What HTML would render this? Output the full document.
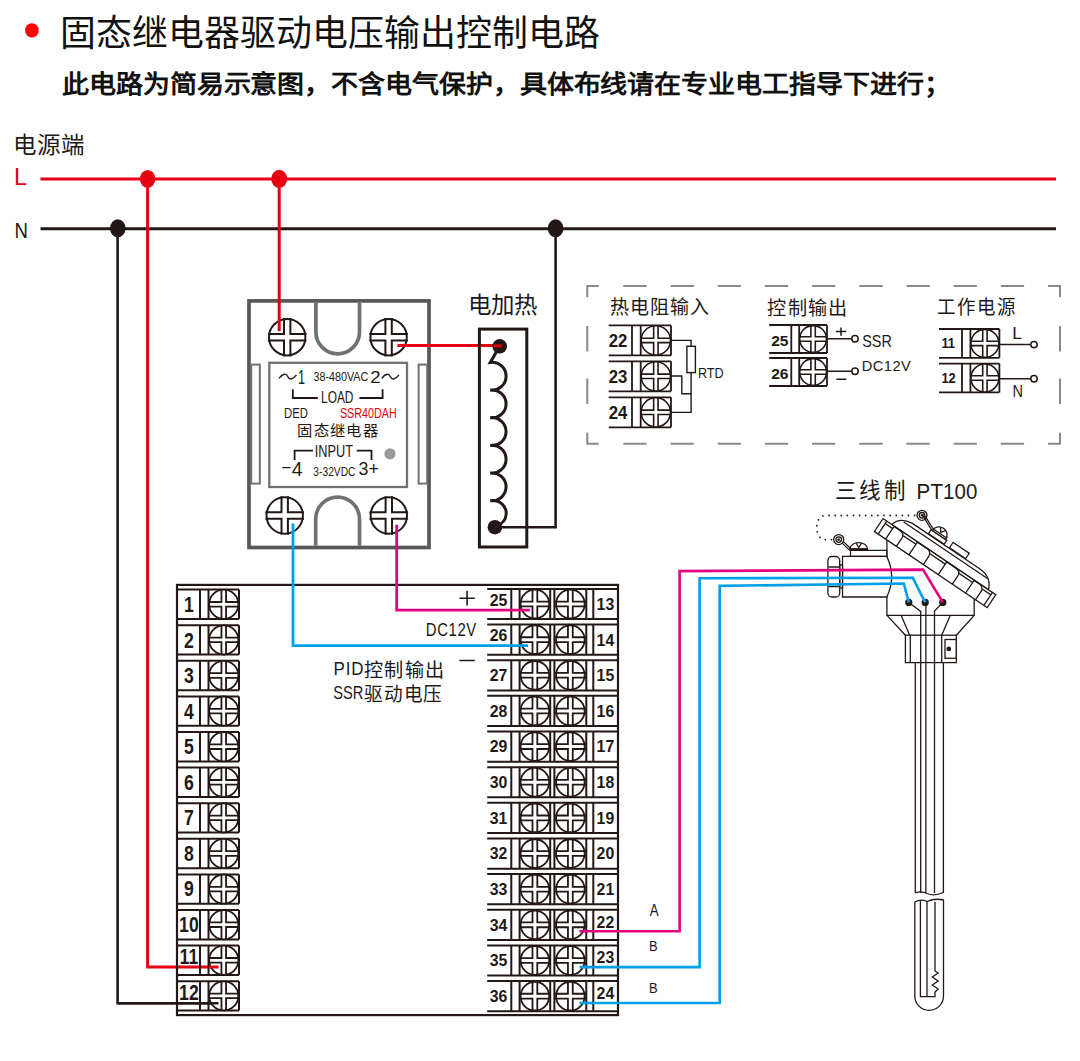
<!DOCTYPE html>
<html lang="zh-CN"><head><meta charset="utf-8"><title>SSR</title>
<style>html,body{margin:0;padding:0;background:#fff;width:1080px;height:1061px;overflow:hidden}
svg{position:absolute;left:0;top:0;font-family:"Liberation Sans", sans-serif}</style></head><body>
<svg width="1080" height="1061" viewBox="0 0 1080 1061">
<ellipse cx="31.9" cy="30.4" rx="6.8" ry="7.2" fill="#ff0000"/>
<text x="60.50" y="46.20" font-size="36" fill="#111" font-weight="normal" text-anchor="start" transform="translate(60.50,46.20) scale(0.9975,1) translate(-60.50,-46.20)">固态继电器驱动电压输出控制电路</text>
<text x="62" y="93" font-size="27" fill="#111" font-weight="bold" transform="translate(0,95.4) scale(1,0.93) translate(0,-95.4)">此电路为简易示意图，不含电气保护，具体布线请在专业电工指导下进行；</text>
<text x="13.04" y="152.89" font-size="23.0" fill="#231815" font-weight="normal" text-anchor="start" letter-spacing="0.85" transform="translate(13.04,152.89) scale(1.024,1) translate(-13.04,-152.89)">电源端</text>
<text x="14.08" y="185.00" font-size="23.09" fill="#e60012" font-weight="normal" text-anchor="start" transform="translate(14.08,185.00) scale(1.026,1) translate(-14.08,-185.00)">L</text>
<text x="14.53" y="237.57" font-size="22.75" fill="#231815" font-weight="normal" text-anchor="start" transform="translate(14.53,237.57) scale(0.816,1) translate(-14.53,-237.57)">N</text>
<line x1="40.5" y1="178.9" x2="1056" y2="178.9" stroke="#e60012" stroke-width="3"/>
<line x1="40.5" y1="228.7" x2="1056" y2="228.7" stroke="#231815" stroke-width="3"/>
<path d="M117.6,228.7V1003.3H218.5" fill="none" stroke="#231815" stroke-width="2.6"/>
<path d="M555.6,228.7V527.2H495" fill="none" stroke="#231815" stroke-width="2.6"/>
<ellipse cx="117.8" cy="228.3" rx="7.8" ry="9" fill="#231815"/>
<ellipse cx="555.6" cy="228.3" rx="7.8" ry="9" fill="#231815"/>
<rect x="249" y="300.9" width="180" height="246.6" fill="#fff" stroke="#595757" stroke-width="3.7"/>
<path d="M315.9,302.5V332A21.8,21.8 0 0 0 359.5,332V302.5" fill="none" stroke="#727171" stroke-width="3.7"/>
<path d="M315.7,545.8V519A21.9,21.9 0 0 1 359.5,519V545.8" fill="none" stroke="#727171" stroke-width="3.7"/>
<rect x="251.2" y="364.6" width="8.6" height="119" fill="none" stroke="#727171" stroke-width="2"/>
<rect x="418.6" y="364.6" width="8.6" height="119" fill="none" stroke="#727171" stroke-width="2"/>
<rect x="269.3" y="362.8" width="137.7" height="124.2" fill="none" stroke="#727171" stroke-width="2.3"/>
<circle cx="287.20" cy="337.20" r="18.20" fill="#fff" stroke="#231815" stroke-width="2"/><path d="M284.00,317.90V334.00H267.90M290.40,317.90V334.00H306.50M284.00,356.50V340.40H267.90M290.40,356.50V340.40H306.50" fill="none" stroke="#231815" stroke-width="2"/>
<circle cx="388.60" cy="337.20" r="18.20" fill="#fff" stroke="#231815" stroke-width="2"/><path d="M385.40,317.90V334.00H369.30M391.80,317.90V334.00H407.90M385.40,356.50V340.40H369.30M391.80,356.50V340.40H407.90" fill="none" stroke="#231815" stroke-width="2"/>
<circle cx="284.70" cy="515.50" r="18.20" fill="#fff" stroke="#231815" stroke-width="2"/><path d="M281.50,496.20V512.30H265.40M287.90,496.20V512.30H304.00M281.50,534.80V518.70H265.40M287.90,534.80V518.70H304.00" fill="none" stroke="#231815" stroke-width="2"/>
<circle cx="388.80" cy="515.50" r="18.20" fill="#fff" stroke="#231815" stroke-width="2"/><path d="M385.60,496.20V512.30H369.50M392.00,496.20V512.30H408.10M385.60,534.80V518.70H369.50M392.00,534.80V518.70H408.10" fill="none" stroke="#231815" stroke-width="2"/>
<path d="M279.2,178.9V331.1" fill="none" stroke="#e60012" stroke-width="3"/>
<path d="M397.4,345.5H501.7" fill="none" stroke="#e60012" stroke-width="3"/>
<ellipse cx="147.6" cy="178.9" rx="7.7" ry="9" fill="#e60012"/>
<ellipse cx="279.2" cy="178.8" rx="8" ry="9" fill="#e60012"/>
<path d="M279,378.40000000000003 C282.85,373.1 286.35,373.1 287.75,376.6 C289.15,380.1 292.65,380.1 296.5,374.8" fill="none" stroke="#231815" stroke-width="1.4"/>
<path d="M381.7,378.40000000000003 C385.484,373.1 388.924,373.1 390.3,376.6 C391.676,380.1 395.116,380.1 398.9,374.8" fill="none" stroke="#231815" stroke-width="1.4"/>
<text x="297.94" y="383.80" font-size="19.55" fill="#231815" font-weight="normal" text-anchor="start" transform="translate(297.94,383.80) scale(0.65,1) translate(-297.94,-383.80)">1</text>
<text x="313.48" y="380.72" font-size="11.95" fill="#231815" font-weight="normal" text-anchor="start" transform="translate(313.48,380.72) scale(0.902,1) translate(-313.48,-380.72)">38-480VAC</text>
<text x="370.15" y="383.10" font-size="17.4" fill="#231815" font-weight="normal" text-anchor="start" transform="translate(370.15,383.10) scale(1.064,1) translate(-370.15,-383.10)">2</text>
<path d="M292.8,389.3V398H317.8M359.4,398H382.6V389.3" fill="none" stroke="#231815" stroke-width="1.8"/>
<text x="321.09" y="402.60" font-size="15.93" fill="#231815" font-weight="normal" text-anchor="start" transform="translate(321.09,402.60) scale(0.747,1) translate(-321.09,-402.60)">LOAD</text>
<text x="284.08" y="418.10" font-size="14.02" fill="#231815" font-weight="normal" text-anchor="start" transform="translate(284.08,418.10) scale(0.808,1) translate(-284.08,-418.10)">DED</text>
<text x="339.91" y="418.10" font-size="14.02" fill="#e60012" font-weight="normal" text-anchor="start" transform="translate(339.91,418.10) scale(0.769,1) translate(-339.91,-418.10)">SSR40DAH</text>
<text x="297.31" y="436.34" font-size="15.0" fill="#231815" font-weight="normal" text-anchor="start" letter-spacing="1.1" transform="translate(297.31,436.34) scale(1.024,1) translate(-297.31,-436.34)">固态继电器</text>
<path d="M294.6,460V450.7H313M356.7,450.7H371.5V460" fill="none" stroke="#231815" stroke-width="1.8"/>
<text x="314.70" y="457.12" font-size="16.42" fill="#231815" font-weight="normal" text-anchor="start" transform="translate(314.70,457.12) scale(0.778,1) translate(-314.70,-457.12)">INPUT</text>
<circle cx="390" cy="453.8" r="5.6" fill="#9a9a9a"/>
<path d="M282.3,467.6H290.6" stroke="#231815" stroke-width="1.3"/>
<text x="291.71" y="475.79" font-size="19.49" fill="#231815" font-weight="normal" text-anchor="start" transform="translate(291.71,475.79) scale(0.991,1) translate(-291.71,-475.79)">4</text>
<text x="313.38" y="475.80" font-size="12.0" fill="#231815" font-weight="normal" text-anchor="start" transform="translate(313.38,475.80) scale(0.853,1) translate(-313.38,-475.80)">3-32VDC</text>
<text x="358.45" y="475.20" font-size="18.5" fill="#231815" font-weight="normal" text-anchor="start" transform="translate(358.45,475.20) scale(0.966,1) translate(-358.45,-475.20)">3+</text>
<text x="467.62" y="312.89" font-size="23.0" fill="#231815" font-weight="normal" text-anchor="start" transform="translate(467.62,312.89) scale(1.021,1) translate(-467.62,-312.89)">电加热</text>
<rect x="479.4" y="329.1" width="47.4" height="217.9" fill="none" stroke="#231815" stroke-width="3"/>
<path d="M499.7,346.3L490.3,362.4A13.95,13.95 0 1 1 490.3,390.06A13.95,13.95 0 1 1 490.3,417.72A13.95,13.95 0 1 1 490.3,445.38A13.95,13.95 0 1 1 490.3,473.04A13.95,13.95 0 1 1 490.3,500.70C500.5,499.8 506.5,506 506.2,514C505.8,520.5 501,524.5 496,526" fill="none" stroke="#231815" stroke-width="3"/>
<circle cx="499.7" cy="346.3" r="7.3" fill="#231815"/>
<circle cx="494.9" cy="527.2" r="7.3" fill="#231815"/>
<path d="M494,345.9H501.7" fill="none" stroke="#e60012" stroke-width="3"/>
<path d="M587.3,297.2V286H598.7M1048,286H1060V297.2M587.3,432.8V443.8H598.7M1048,443.8H1060V432.8M623.30,286H646.60M623.30,443.8H646.60M670.49,286H693.79M670.49,443.8H693.79M717.68,286H740.98M717.68,443.8H740.98M764.87,286H788.17M764.87,443.8H788.17M812.06,286H835.36M812.06,443.8H835.36M859.25,286H882.55M859.25,443.8H882.55M906.44,286H929.74M906.44,443.8H929.74M953.63,286H976.93M953.63,443.8H976.93M1000.82,286H1024.12M1000.82,443.8H1024.12M587.3,325.9V351.4M1060,325.9V351.4M587.3,378.5V404.0M1060,378.5V404.0" fill="none" stroke="#898989" stroke-width="2"/>
<text x="609.80" y="313.60" font-size="19.0" fill="#231815" font-weight="normal" text-anchor="start" letter-spacing="0.9" transform="translate(609.80,313.60) scale(1.003,1) translate(-609.80,-313.60)">热电阻输入</text>
<path d="M608.7,325.4H671M608.7,355.4H671M632,325.4V355.4M640.7,325.4V355.4M671,325.4V355.4" fill="none" stroke="#231815" stroke-width="1.8"/><circle cx="655.85" cy="340.40" r="14.65" fill="#fff" stroke="#231815" stroke-width="1.6"/><path d="M653.65,325.40V338.20H640.70M658.05,325.40V338.20H671.00M653.65,355.40V342.60H640.70M658.05,355.40V342.60H671.00" fill="none" stroke="#231815" stroke-width="1.6"/><text x="608.80" y="346.80" font-size="17.75" fill="#231815" font-weight="bold" text-anchor="start" transform="translate(608.80,346.80) scale(0.943,1) translate(-608.80,-346.80)">22</text>
<path d="M608.7,361.34999999999997H671M608.7,391.34999999999997H671M632,361.34999999999997V391.34999999999997M640.7,361.34999999999997V391.34999999999997M671,361.34999999999997V391.34999999999997" fill="none" stroke="#231815" stroke-width="1.8"/><circle cx="655.85" cy="376.35" r="14.65" fill="#fff" stroke="#231815" stroke-width="1.6"/><path d="M653.65,361.35V374.15H640.70M658.05,361.35V374.15H671.00M653.65,391.35V378.55H640.70M658.05,391.35V378.55H671.00" fill="none" stroke="#231815" stroke-width="1.6"/><text x="608.80" y="382.75" font-size="17.75" fill="#231815" font-weight="bold" text-anchor="start" transform="translate(608.80,382.75) scale(0.943,1) translate(-608.80,-382.75)">23</text>
<path d="M608.7,397.29999999999995H671M608.7,427.29999999999995H671M632,397.29999999999995V427.29999999999995M640.7,397.29999999999995V427.29999999999995M671,397.29999999999995V427.29999999999995" fill="none" stroke="#231815" stroke-width="1.8"/><circle cx="655.85" cy="412.30" r="14.65" fill="#fff" stroke="#231815" stroke-width="1.6"/><path d="M653.65,397.30V410.10H640.70M658.05,397.30V410.10H671.00M653.65,427.30V414.50H640.70M658.05,427.30V414.50H671.00" fill="none" stroke="#231815" stroke-width="1.6"/><text x="608.80" y="418.70" font-size="17.75" fill="#231815" font-weight="bold" text-anchor="start" transform="translate(608.80,418.70) scale(0.943,1) translate(-608.80,-418.70)">24</text>
<path d="M671,340.4H691.1V346.3M691.1,372.6V412.4H671M671,376H681.8V393.8H691.1" fill="none" stroke="#231815" stroke-width="1.4"/>
<rect x="686.9" y="346.3" width="8.5" height="26.3" fill="#fff" stroke="#231815" stroke-width="1.4"/>
<text x="697.90" y="378.50" font-size="14.92" fill="#231815" font-weight="normal" text-anchor="start" transform="translate(697.90,378.50) scale(0.846,1) translate(-697.90,-378.50)">RTD</text>
<text x="767.21" y="314.78" font-size="19.0" fill="#231815" font-weight="normal" text-anchor="start" letter-spacing="1.3" transform="translate(767.21,314.78) scale(1.01,1) translate(-767.21,-314.78)">控制输出</text>
<path d="M769.2,325H827M769.2,353H827M791.3,325V353M799.2,325V353M827,325V353" fill="none" stroke="#231815" stroke-width="1.8"/><circle cx="813.10" cy="339.00" r="13.40" fill="#fff" stroke="#231815" stroke-width="1.6"/><path d="M810.90,325.00V336.80H799.20M815.30,325.00V336.80H827.00M810.90,353.00V341.20H799.20M815.30,353.00V341.20H827.00" fill="none" stroke="#231815" stroke-width="1.6"/><text x="771.20" y="345.80" font-size="15.35" fill="#231815" font-weight="bold" text-anchor="start" transform="translate(771.20,345.80) scale(1.018,1) translate(-771.20,-345.80)">25</text>
<path d="M769.2,358H827M769.2,386H827M791.3,358V386M799.2,358V386M827,358V386" fill="none" stroke="#231815" stroke-width="1.8"/><circle cx="813.10" cy="372.00" r="13.40" fill="#fff" stroke="#231815" stroke-width="1.6"/><path d="M810.90,358.00V369.80H799.20M815.30,358.00V369.80H827.00M810.90,386.00V374.20H799.20M815.30,386.00V374.20H827.00" fill="none" stroke="#231815" stroke-width="1.6"/><text x="771.20" y="378.80" font-size="15.35" fill="#231815" font-weight="bold" text-anchor="start" transform="translate(771.20,378.80) scale(1.018,1) translate(-771.20,-378.80)">26</text>
<path d="M827,338.7H851.8M827,371.3H851.8M835.8,331.6H846.3M841,327.4V335.8M836.3,379.2H846.3" fill="none" stroke="#231815" stroke-width="1.5"/>
<circle cx="855" cy="338.7" r="3.2" fill="#fff" stroke="#231815" stroke-width="1.5"/>
<circle cx="855" cy="371.3" r="3.2" fill="#fff" stroke="#231815" stroke-width="1.5"/>
<text x="862.21" y="347.50" font-size="15.93" fill="#231815" font-weight="normal" text-anchor="start" transform="translate(862.21,347.50) scale(0.905,1) translate(-862.21,-347.50)">SSR</text>
<text x="861.70" y="371.30" font-size="15.29" fill="#231815" font-weight="normal" text-anchor="start" letter-spacing="0.5" transform="translate(861.70,371.30) scale(0.959,1) translate(-861.70,-371.30)">DC12V</text>
<text x="936.88" y="313.61" font-size="19.0" fill="#231815" font-weight="normal" text-anchor="start" letter-spacing="1.3" transform="translate(936.88,313.61) scale(0.972,1) translate(-936.88,-313.61)">工作电源</text>
<path d="M939,329.0H999.4M939,357.8H999.4M962,329.0V357.8M970.4,329.0V357.8M999.4,329.0V357.8" fill="none" stroke="#231815" stroke-width="1.8"/><circle cx="984.90" cy="343.40" r="14.00" fill="#fff" stroke="#231815" stroke-width="1.6"/><path d="M982.70,329.00V341.20H970.40M987.10,329.00V341.20H999.40M982.70,357.80V345.60H970.40M987.10,357.80V345.60H999.40" fill="none" stroke="#231815" stroke-width="1.6"/><text x="941.39" y="348.00" font-size="14.73" fill="#231815" font-weight="bold" text-anchor="start" transform="translate(941.39,348.00) scale(0.878,1) translate(-941.39,-348.00)">11</text>
<path d="M939,363.6H999.4M939,392.40000000000003H999.4M962,363.6V392.40000000000003M970.4,363.6V392.40000000000003M999.4,363.6V392.40000000000003" fill="none" stroke="#231815" stroke-width="1.8"/><circle cx="984.90" cy="378.00" r="14.00" fill="#fff" stroke="#231815" stroke-width="1.6"/><path d="M982.70,363.60V375.80H970.40M987.10,363.60V375.80H999.40M982.70,392.40V380.20H970.40M987.10,392.40V380.20H999.40" fill="none" stroke="#231815" stroke-width="1.6"/><text x="941.39" y="382.60" font-size="14.73" fill="#231815" font-weight="bold" text-anchor="start" transform="translate(941.39,382.60) scale(0.878,1) translate(-941.39,-382.60)">12</text>
<path d="M999.4,344.6H1030.8M999.4,378.8H1030.8" fill="none" stroke="#231815" stroke-width="1.5"/>
<circle cx="1034" cy="344.6" r="3.2" fill="#fff" stroke="#231815" stroke-width="1.5"/>
<circle cx="1034" cy="378.8" r="3.2" fill="#fff" stroke="#231815" stroke-width="1.5"/>
<text x="1012.26" y="339.50" font-size="16.53" fill="#231815" font-weight="normal" text-anchor="start" transform="translate(1012.26,339.50) scale(1.06,1) translate(-1012.26,-339.50)">L</text>
<text x="1012.62" y="397.45" font-size="16.21" fill="#231815" font-weight="normal" text-anchor="start" transform="translate(1012.62,397.45) scale(0.892,1) translate(-1012.62,-397.45)">N</text>
<path d="M147.6,178.9V967H218.5" fill="none" stroke="#e60012" stroke-width="3"/>
<rect x="177" y="584.9" width="441" height="430.2" fill="none" stroke="#231815" stroke-width="2.2"/>
<path d="M177,589.60H239M177,619.00H239M200,589.60V619.00M208.5,589.60V619.00M239,589.60V619.00" fill="none" stroke="#231815" stroke-width="2"/>
<circle cx="223.75" cy="604.30" r="14.60" fill="#fff" stroke="#231815" stroke-width="1.8"/><path d="M221.45,589.60V602.00H208.50M226.05,589.60V602.00H239.00M221.45,619.00V606.60H208.50M226.05,619.00V606.60H239.00" fill="none" stroke="#231815" stroke-width="1.8"/>
<text x="188.90" y="611.80" font-size="21.99" fill="#231815" font-weight="bold" text-anchor="middle" transform="translate(188.90,611.80) scale(0.8,1) translate(-188.90,-611.80)">1</text>
<path d="M177,625.20H239M177,654.60H239M200,625.20V654.60M208.5,625.20V654.60M239,625.20V654.60" fill="none" stroke="#231815" stroke-width="2"/>
<circle cx="223.75" cy="639.90" r="14.60" fill="#fff" stroke="#231815" stroke-width="1.8"/><path d="M221.45,625.20V637.60H208.50M226.05,625.20V637.60H239.00M221.45,654.60V642.20H208.50M226.05,654.60V642.20H239.00" fill="none" stroke="#231815" stroke-width="1.8"/>
<text x="188.90" y="648.10" font-size="21.99" fill="#231815" font-weight="bold" text-anchor="middle" transform="translate(188.90,648.10) scale(0.8,1) translate(-188.90,-648.10)">2</text>
<path d="M177,660.80H239M177,690.20H239M200,660.80V690.20M208.5,660.80V690.20M239,660.80V690.20" fill="none" stroke="#231815" stroke-width="2"/>
<circle cx="223.75" cy="675.50" r="14.60" fill="#fff" stroke="#231815" stroke-width="1.8"/><path d="M221.45,660.80V673.20H208.50M226.05,660.80V673.20H239.00M221.45,690.20V677.80H208.50M226.05,690.20V677.80H239.00" fill="none" stroke="#231815" stroke-width="1.8"/>
<text x="188.90" y="683.00" font-size="21.99" fill="#231815" font-weight="bold" text-anchor="middle" transform="translate(188.90,683.00) scale(0.8,1) translate(-188.90,-683.00)">3</text>
<path d="M177,696.40H239M177,725.80H239M200,696.40V725.80M208.5,696.40V725.80M239,696.40V725.80" fill="none" stroke="#231815" stroke-width="2"/>
<circle cx="223.75" cy="711.10" r="14.60" fill="#fff" stroke="#231815" stroke-width="1.8"/><path d="M221.45,696.40V708.80H208.50M226.05,696.40V708.80H239.00M221.45,725.80V713.40H208.50M226.05,725.80V713.40H239.00" fill="none" stroke="#231815" stroke-width="1.8"/>
<text x="188.90" y="718.60" font-size="21.99" fill="#231815" font-weight="bold" text-anchor="middle" transform="translate(188.90,718.60) scale(0.8,1) translate(-188.90,-718.60)">4</text>
<path d="M177,732.00H239M177,761.40H239M200,732.00V761.40M208.5,732.00V761.40M239,732.00V761.40" fill="none" stroke="#231815" stroke-width="2"/>
<circle cx="223.75" cy="746.70" r="14.60" fill="#fff" stroke="#231815" stroke-width="1.8"/><path d="M221.45,732.00V744.40H208.50M226.05,732.00V744.40H239.00M221.45,761.40V749.00H208.50M226.05,761.40V749.00H239.00" fill="none" stroke="#231815" stroke-width="1.8"/>
<text x="188.90" y="754.20" font-size="21.99" fill="#231815" font-weight="bold" text-anchor="middle" transform="translate(188.90,754.20) scale(0.8,1) translate(-188.90,-754.20)">5</text>
<path d="M177,767.60H239M177,797.00H239M200,767.60V797.00M208.5,767.60V797.00M239,767.60V797.00" fill="none" stroke="#231815" stroke-width="2"/>
<circle cx="223.75" cy="782.30" r="14.60" fill="#fff" stroke="#231815" stroke-width="1.8"/><path d="M221.45,767.60V780.00H208.50M226.05,767.60V780.00H239.00M221.45,797.00V784.60H208.50M226.05,797.00V784.60H239.00" fill="none" stroke="#231815" stroke-width="1.8"/>
<text x="188.90" y="789.80" font-size="21.99" fill="#231815" font-weight="bold" text-anchor="middle" transform="translate(188.90,789.80) scale(0.8,1) translate(-188.90,-789.80)">6</text>
<path d="M177,803.20H239M177,832.60H239M200,803.20V832.60M208.5,803.20V832.60M239,803.20V832.60" fill="none" stroke="#231815" stroke-width="2"/>
<circle cx="223.75" cy="817.90" r="14.60" fill="#fff" stroke="#231815" stroke-width="1.8"/><path d="M221.45,803.20V815.60H208.50M226.05,803.20V815.60H239.00M221.45,832.60V820.20H208.50M226.05,832.60V820.20H239.00" fill="none" stroke="#231815" stroke-width="1.8"/>
<text x="188.90" y="825.40" font-size="21.99" fill="#231815" font-weight="bold" text-anchor="middle" transform="translate(188.90,825.40) scale(0.8,1) translate(-188.90,-825.40)">7</text>
<path d="M177,838.80H239M177,868.20H239M200,838.80V868.20M208.5,838.80V868.20M239,838.80V868.20" fill="none" stroke="#231815" stroke-width="2"/>
<circle cx="223.75" cy="853.50" r="14.60" fill="#fff" stroke="#231815" stroke-width="1.8"/><path d="M221.45,838.80V851.20H208.50M226.05,838.80V851.20H239.00M221.45,868.20V855.80H208.50M226.05,868.20V855.80H239.00" fill="none" stroke="#231815" stroke-width="1.8"/>
<text x="188.90" y="861.00" font-size="21.99" fill="#231815" font-weight="bold" text-anchor="middle" transform="translate(188.90,861.00) scale(0.8,1) translate(-188.90,-861.00)">8</text>
<path d="M177,874.40H239M177,903.80H239M200,874.40V903.80M208.5,874.40V903.80M239,874.40V903.80" fill="none" stroke="#231815" stroke-width="2"/>
<circle cx="223.75" cy="889.10" r="14.60" fill="#fff" stroke="#231815" stroke-width="1.8"/><path d="M221.45,874.40V886.80H208.50M226.05,874.40V886.80H239.00M221.45,903.80V891.40H208.50M226.05,903.80V891.40H239.00" fill="none" stroke="#231815" stroke-width="1.8"/>
<text x="188.90" y="895.70" font-size="21.99" fill="#231815" font-weight="bold" text-anchor="middle" transform="translate(188.90,895.70) scale(0.8,1) translate(-188.90,-895.70)">9</text>
<path d="M177,910.00H239M177,939.40H239M200,910.00V939.40M208.5,910.00V939.40M239,910.00V939.40" fill="none" stroke="#231815" stroke-width="2"/>
<circle cx="223.75" cy="924.70" r="14.60" fill="#fff" stroke="#231815" stroke-width="1.8"/><path d="M221.45,910.00V922.40H208.50M226.05,910.00V922.40H239.00M221.45,939.40V927.00H208.50M226.05,939.40V927.00H239.00" fill="none" stroke="#231815" stroke-width="1.8"/>
<text x="188.90" y="932.20" font-size="21.99" fill="#231815" font-weight="bold" text-anchor="middle" transform="translate(188.90,932.20) scale(0.8,1) translate(-188.90,-932.20)">10</text>
<path d="M177,945.60H239M177,975.00H239M200,945.60V975.00M208.5,945.60V975.00M239,945.60V975.00" fill="none" stroke="#231815" stroke-width="2"/>
<circle cx="223.75" cy="960.30" r="14.60" fill="#fff" stroke="#231815" stroke-width="1.8"/><path d="M221.45,945.60V958.00H208.50M226.05,945.60V958.00H239.00M221.45,975.00V962.60H208.50M226.05,975.00V962.60H239.00" fill="none" stroke="#231815" stroke-width="1.8"/>
<text x="188.90" y="964.40" font-size="21.99" fill="#231815" font-weight="bold" text-anchor="middle" transform="translate(188.90,964.40) scale(0.8,1) translate(-188.90,-964.40)">11</text>
<path d="M177,981.20H239M177,1010.60H239M200,981.20V1010.60M208.5,981.20V1010.60M239,981.20V1010.60" fill="none" stroke="#231815" stroke-width="2"/>
<circle cx="223.75" cy="995.90" r="14.60" fill="#fff" stroke="#231815" stroke-width="1.8"/><path d="M221.45,981.20V993.60H208.50M226.05,981.20V993.60H239.00M221.45,1010.60V998.20H208.50M226.05,1010.60V998.20H239.00" fill="none" stroke="#231815" stroke-width="1.8"/>
<text x="188.90" y="1000.00" font-size="21.99" fill="#231815" font-weight="bold" text-anchor="middle" transform="translate(188.90,1000.00) scale(0.8,1) translate(-188.90,-1000.00)">12</text>
<path d="M487.2,588.90H618M487.2,619.10H618M511.3,588.90V619.10M519.6,588.90V619.10M550.2,588.90V619.10M554.4,588.90V619.10M586.3,588.90V619.10M593.3,588.90V619.10" fill="none" stroke="#231815" stroke-width="2"/>
<circle cx="534.90" cy="604.00" r="14.30" fill="#fff" stroke="#231815" stroke-width="1.8"/><path d="M532.50,588.90V601.60H519.60M537.30,588.90V601.60H550.20M532.50,619.10V606.40H519.60M537.30,619.10V606.40H550.20" fill="none" stroke="#231815" stroke-width="1.8"/>
<circle cx="570.35" cy="604.00" r="14.30" fill="#fff" stroke="#231815" stroke-width="1.8"/><path d="M567.95,588.90V601.60H554.40M572.75,588.90V601.60H586.30M567.95,619.10V606.40H554.40M572.75,619.10V606.40H586.30" fill="none" stroke="#231815" stroke-width="1.8"/>
<text x="498.50" y="605.60" font-size="15.68" fill="#231815" font-weight="bold" text-anchor="middle" transform="translate(498.50,605.60) scale(1.011,1) translate(-498.50,-605.60)">25</text>
<text x="605.40" y="609.90" font-size="15.68" fill="#231815" font-weight="bold" text-anchor="middle" transform="translate(605.40,609.90) scale(1.011,1) translate(-605.40,-609.90)">13</text>
<path d="M487.2,624.55H618M487.2,654.75H618M511.3,624.55V654.75M519.6,624.55V654.75M550.2,624.55V654.75M554.4,624.55V654.75M586.3,624.55V654.75M593.3,624.55V654.75" fill="none" stroke="#231815" stroke-width="2"/>
<circle cx="534.90" cy="639.65" r="14.30" fill="#fff" stroke="#231815" stroke-width="1.8"/><path d="M532.50,624.55V637.25H519.60M537.30,624.55V637.25H550.20M532.50,654.75V642.05H519.60M537.30,654.75V642.05H550.20" fill="none" stroke="#231815" stroke-width="1.8"/>
<circle cx="570.35" cy="639.65" r="14.30" fill="#fff" stroke="#231815" stroke-width="1.8"/><path d="M567.95,624.55V637.25H554.40M572.75,624.55V637.25H586.30M567.95,654.75V642.05H554.40M572.75,654.75V642.05H586.30" fill="none" stroke="#231815" stroke-width="1.8"/>
<text x="498.50" y="641.25" font-size="15.68" fill="#231815" font-weight="bold" text-anchor="middle" transform="translate(498.50,641.25) scale(1.011,1) translate(-498.50,-641.25)">26</text>
<text x="605.40" y="645.55" font-size="15.68" fill="#231815" font-weight="bold" text-anchor="middle" transform="translate(605.40,645.55) scale(1.011,1) translate(-605.40,-645.55)">14</text>
<path d="M487.2,660.20H618M487.2,690.40H618M511.3,660.20V690.40M519.6,660.20V690.40M550.2,660.20V690.40M554.4,660.20V690.40M586.3,660.20V690.40M593.3,660.20V690.40" fill="none" stroke="#231815" stroke-width="2"/>
<circle cx="534.90" cy="675.30" r="14.30" fill="#fff" stroke="#231815" stroke-width="1.8"/><path d="M532.50,660.20V672.90H519.60M537.30,660.20V672.90H550.20M532.50,690.40V677.70H519.60M537.30,690.40V677.70H550.20" fill="none" stroke="#231815" stroke-width="1.8"/>
<circle cx="570.35" cy="675.30" r="14.30" fill="#fff" stroke="#231815" stroke-width="1.8"/><path d="M567.95,660.20V672.90H554.40M572.75,660.20V672.90H586.30M567.95,690.40V677.70H554.40M572.75,690.40V677.70H586.30" fill="none" stroke="#231815" stroke-width="1.8"/>
<text x="498.50" y="681.10" font-size="15.68" fill="#231815" font-weight="bold" text-anchor="middle" transform="translate(498.50,681.10) scale(1.011,1) translate(-498.50,-681.10)">27</text>
<text x="605.40" y="681.20" font-size="15.68" fill="#231815" font-weight="bold" text-anchor="middle" transform="translate(605.40,681.20) scale(1.011,1) translate(-605.40,-681.20)">15</text>
<path d="M487.2,695.85H618M487.2,726.05H618M511.3,695.85V726.05M519.6,695.85V726.05M550.2,695.85V726.05M554.4,695.85V726.05M586.3,695.85V726.05M593.3,695.85V726.05" fill="none" stroke="#231815" stroke-width="2"/>
<circle cx="534.90" cy="710.95" r="14.30" fill="#fff" stroke="#231815" stroke-width="1.8"/><path d="M532.50,695.85V708.55H519.60M537.30,695.85V708.55H550.20M532.50,726.05V713.35H519.60M537.30,726.05V713.35H550.20" fill="none" stroke="#231815" stroke-width="1.8"/>
<circle cx="570.35" cy="710.95" r="14.30" fill="#fff" stroke="#231815" stroke-width="1.8"/><path d="M567.95,695.85V708.55H554.40M572.75,695.85V708.55H586.30M567.95,726.05V713.35H554.40M572.75,726.05V713.35H586.30" fill="none" stroke="#231815" stroke-width="1.8"/>
<text x="498.50" y="716.75" font-size="15.68" fill="#231815" font-weight="bold" text-anchor="middle" transform="translate(498.50,716.75) scale(1.011,1) translate(-498.50,-716.75)">28</text>
<text x="605.40" y="716.85" font-size="15.68" fill="#231815" font-weight="bold" text-anchor="middle" transform="translate(605.40,716.85) scale(1.011,1) translate(-605.40,-716.85)">16</text>
<path d="M487.2,731.50H618M487.2,761.70H618M511.3,731.50V761.70M519.6,731.50V761.70M550.2,731.50V761.70M554.4,731.50V761.70M586.3,731.50V761.70M593.3,731.50V761.70" fill="none" stroke="#231815" stroke-width="2"/>
<circle cx="534.90" cy="746.60" r="14.30" fill="#fff" stroke="#231815" stroke-width="1.8"/><path d="M532.50,731.50V744.20H519.60M537.30,731.50V744.20H550.20M532.50,761.70V749.00H519.60M537.30,761.70V749.00H550.20" fill="none" stroke="#231815" stroke-width="1.8"/>
<circle cx="570.35" cy="746.60" r="14.30" fill="#fff" stroke="#231815" stroke-width="1.8"/><path d="M567.95,731.50V744.20H554.40M572.75,731.50V744.20H586.30M567.95,761.70V749.00H554.40M572.75,761.70V749.00H586.30" fill="none" stroke="#231815" stroke-width="1.8"/>
<text x="498.50" y="752.40" font-size="15.68" fill="#231815" font-weight="bold" text-anchor="middle" transform="translate(498.50,752.40) scale(1.011,1) translate(-498.50,-752.40)">29</text>
<text x="605.40" y="752.50" font-size="15.68" fill="#231815" font-weight="bold" text-anchor="middle" transform="translate(605.40,752.50) scale(1.011,1) translate(-605.40,-752.50)">17</text>
<path d="M487.2,767.15H618M487.2,797.35H618M511.3,767.15V797.35M519.6,767.15V797.35M550.2,767.15V797.35M554.4,767.15V797.35M586.3,767.15V797.35M593.3,767.15V797.35" fill="none" stroke="#231815" stroke-width="2"/>
<circle cx="534.90" cy="782.25" r="14.30" fill="#fff" stroke="#231815" stroke-width="1.8"/><path d="M532.50,767.15V779.85H519.60M537.30,767.15V779.85H550.20M532.50,797.35V784.65H519.60M537.30,797.35V784.65H550.20" fill="none" stroke="#231815" stroke-width="1.8"/>
<circle cx="570.35" cy="782.25" r="14.30" fill="#fff" stroke="#231815" stroke-width="1.8"/><path d="M567.95,767.15V779.85H554.40M572.75,767.15V779.85H586.30M567.95,797.35V784.65H554.40M572.75,797.35V784.65H586.30" fill="none" stroke="#231815" stroke-width="1.8"/>
<text x="498.50" y="788.05" font-size="15.68" fill="#231815" font-weight="bold" text-anchor="middle" transform="translate(498.50,788.05) scale(1.011,1) translate(-498.50,-788.05)">30</text>
<text x="605.40" y="788.15" font-size="15.68" fill="#231815" font-weight="bold" text-anchor="middle" transform="translate(605.40,788.15) scale(1.011,1) translate(-605.40,-788.15)">18</text>
<path d="M487.2,802.80H618M487.2,833.00H618M511.3,802.80V833.00M519.6,802.80V833.00M550.2,802.80V833.00M554.4,802.80V833.00M586.3,802.80V833.00M593.3,802.80V833.00" fill="none" stroke="#231815" stroke-width="2"/>
<circle cx="534.90" cy="817.90" r="14.30" fill="#fff" stroke="#231815" stroke-width="1.8"/><path d="M532.50,802.80V815.50H519.60M537.30,802.80V815.50H550.20M532.50,833.00V820.30H519.60M537.30,833.00V820.30H550.20" fill="none" stroke="#231815" stroke-width="1.8"/>
<circle cx="570.35" cy="817.90" r="14.30" fill="#fff" stroke="#231815" stroke-width="1.8"/><path d="M567.95,802.80V815.50H554.40M572.75,802.80V815.50H586.30M567.95,833.00V820.30H554.40M572.75,833.00V820.30H586.30" fill="none" stroke="#231815" stroke-width="1.8"/>
<text x="498.50" y="823.70" font-size="15.68" fill="#231815" font-weight="bold" text-anchor="middle" transform="translate(498.50,823.70) scale(1.011,1) translate(-498.50,-823.70)">31</text>
<text x="605.40" y="823.80" font-size="15.68" fill="#231815" font-weight="bold" text-anchor="middle" transform="translate(605.40,823.80) scale(1.011,1) translate(-605.40,-823.80)">19</text>
<path d="M487.2,838.45H618M487.2,868.65H618M511.3,838.45V868.65M519.6,838.45V868.65M550.2,838.45V868.65M554.4,838.45V868.65M586.3,838.45V868.65M593.3,838.45V868.65" fill="none" stroke="#231815" stroke-width="2"/>
<circle cx="534.90" cy="853.55" r="14.30" fill="#fff" stroke="#231815" stroke-width="1.8"/><path d="M532.50,838.45V851.15H519.60M537.30,838.45V851.15H550.20M532.50,868.65V855.95H519.60M537.30,868.65V855.95H550.20" fill="none" stroke="#231815" stroke-width="1.8"/>
<circle cx="570.35" cy="853.55" r="14.30" fill="#fff" stroke="#231815" stroke-width="1.8"/><path d="M567.95,838.45V851.15H554.40M572.75,838.45V851.15H586.30M567.95,868.65V855.95H554.40M572.75,868.65V855.95H586.30" fill="none" stroke="#231815" stroke-width="1.8"/>
<text x="498.50" y="859.35" font-size="15.68" fill="#231815" font-weight="bold" text-anchor="middle" transform="translate(498.50,859.35) scale(1.011,1) translate(-498.50,-859.35)">32</text>
<text x="605.40" y="859.45" font-size="15.68" fill="#231815" font-weight="bold" text-anchor="middle" transform="translate(605.40,859.45) scale(1.011,1) translate(-605.40,-859.45)">20</text>
<path d="M487.2,874.10H618M487.2,904.30H618M511.3,874.10V904.30M519.6,874.10V904.30M550.2,874.10V904.30M554.4,874.10V904.30M586.3,874.10V904.30M593.3,874.10V904.30" fill="none" stroke="#231815" stroke-width="2"/>
<circle cx="534.90" cy="889.20" r="14.30" fill="#fff" stroke="#231815" stroke-width="1.8"/><path d="M532.50,874.10V886.80H519.60M537.30,874.10V886.80H550.20M532.50,904.30V891.60H519.60M537.30,904.30V891.60H550.20" fill="none" stroke="#231815" stroke-width="1.8"/>
<circle cx="570.35" cy="889.20" r="14.30" fill="#fff" stroke="#231815" stroke-width="1.8"/><path d="M567.95,874.10V886.80H554.40M572.75,874.10V886.80H586.30M567.95,904.30V891.60H554.40M572.75,904.30V891.60H586.30" fill="none" stroke="#231815" stroke-width="1.8"/>
<text x="498.50" y="895.00" font-size="15.68" fill="#231815" font-weight="bold" text-anchor="middle" transform="translate(498.50,895.00) scale(1.011,1) translate(-498.50,-895.00)">33</text>
<text x="605.40" y="895.10" font-size="15.68" fill="#231815" font-weight="bold" text-anchor="middle" transform="translate(605.40,895.10) scale(1.011,1) translate(-605.40,-895.10)">21</text>
<path d="M487.2,909.75H618M487.2,939.95H618M511.3,909.75V939.95M519.6,909.75V939.95M550.2,909.75V939.95M554.4,909.75V939.95M586.3,909.75V939.95M593.3,909.75V939.95" fill="none" stroke="#231815" stroke-width="2"/>
<circle cx="534.90" cy="924.85" r="14.30" fill="#fff" stroke="#231815" stroke-width="1.8"/><path d="M532.50,909.75V922.45H519.60M537.30,909.75V922.45H550.20M532.50,939.95V927.25H519.60M537.30,939.95V927.25H550.20" fill="none" stroke="#231815" stroke-width="1.8"/>
<circle cx="570.35" cy="924.85" r="14.30" fill="#fff" stroke="#231815" stroke-width="1.8"/><path d="M567.95,909.75V922.45H554.40M572.75,909.75V922.45H586.30M567.95,939.95V927.25H554.40M572.75,939.95V927.25H586.30" fill="none" stroke="#231815" stroke-width="1.8"/>
<text x="498.50" y="930.65" font-size="15.68" fill="#231815" font-weight="bold" text-anchor="middle" transform="translate(498.50,930.65) scale(1.011,1) translate(-498.50,-930.65)">34</text>
<text x="605.40" y="927.85" font-size="15.68" fill="#231815" font-weight="bold" text-anchor="middle" transform="translate(605.40,927.85) scale(1.011,1) translate(-605.40,-927.85)">22</text>
<path d="M487.2,945.40H618M487.2,975.60H618M511.3,945.40V975.60M519.6,945.40V975.60M550.2,945.40V975.60M554.4,945.40V975.60M586.3,945.40V975.60M593.3,945.40V975.60" fill="none" stroke="#231815" stroke-width="2"/>
<circle cx="534.90" cy="960.50" r="14.30" fill="#fff" stroke="#231815" stroke-width="1.8"/><path d="M532.50,945.40V958.10H519.60M537.30,945.40V958.10H550.20M532.50,975.60V962.90H519.60M537.30,975.60V962.90H550.20" fill="none" stroke="#231815" stroke-width="1.8"/>
<circle cx="570.35" cy="960.50" r="14.30" fill="#fff" stroke="#231815" stroke-width="1.8"/><path d="M567.95,945.40V958.10H554.40M572.75,945.40V958.10H586.30M567.95,975.60V962.90H554.40M572.75,975.60V962.90H586.30" fill="none" stroke="#231815" stroke-width="1.8"/>
<text x="498.50" y="966.30" font-size="15.68" fill="#231815" font-weight="bold" text-anchor="middle" transform="translate(498.50,966.30) scale(1.011,1) translate(-498.50,-966.30)">35</text>
<text x="605.40" y="963.50" font-size="15.68" fill="#231815" font-weight="bold" text-anchor="middle" transform="translate(605.40,963.50) scale(1.011,1) translate(-605.40,-963.50)">23</text>
<path d="M487.2,981.05H618M487.2,1011.25H618M511.3,981.05V1011.25M519.6,981.05V1011.25M550.2,981.05V1011.25M554.4,981.05V1011.25M586.3,981.05V1011.25M593.3,981.05V1011.25" fill="none" stroke="#231815" stroke-width="2"/>
<circle cx="534.90" cy="996.15" r="14.30" fill="#fff" stroke="#231815" stroke-width="1.8"/><path d="M532.50,981.05V993.75H519.60M537.30,981.05V993.75H550.20M532.50,1011.25V998.55H519.60M537.30,1011.25V998.55H550.20" fill="none" stroke="#231815" stroke-width="1.8"/>
<circle cx="570.35" cy="996.15" r="14.30" fill="#fff" stroke="#231815" stroke-width="1.8"/><path d="M567.95,981.05V993.75H554.40M572.75,981.05V993.75H586.30M567.95,1011.25V998.55H554.40M572.75,1011.25V998.55H586.30" fill="none" stroke="#231815" stroke-width="1.8"/>
<text x="498.50" y="1001.95" font-size="15.68" fill="#231815" font-weight="bold" text-anchor="middle" transform="translate(498.50,1001.95) scale(1.011,1) translate(-498.50,-1001.95)">36</text>
<text x="605.40" y="999.15" font-size="15.68" fill="#231815" font-weight="bold" text-anchor="middle" transform="translate(605.40,999.15) scale(1.011,1) translate(-605.40,-999.15)">24</text>
<path d="M459.4,598.2H474.8M467.1,590.7V605.6M459.4,660.5H474.8" fill="none" stroke="#231815" stroke-width="1.6"/>
<text x="425.77" y="636.10" font-size="17.66" fill="#231815" font-weight="normal" text-anchor="start" letter-spacing="0.75" transform="translate(425.77,636.10) scale(0.844,1) translate(-425.77,-636.10)">DC12V</text>
<text x="333.52" y="675.32" font-size="19.16" fill="#231815" font-weight="normal" text-anchor="start" letter-spacing="1.0" transform="translate(333.52,675.32) scale(0.887,1) translate(-333.52,-675.32)">PID</text>
<text x="363.98" y="676.60" font-size="19.0" fill="#231815" font-weight="normal" text-anchor="start" letter-spacing="1.2" transform="translate(363.98,676.60) scale(1.009,1) translate(-363.98,-676.60)">控制输出</text>
<text x="333.21" y="699.48" font-size="18.8" fill="#231815" font-weight="normal" text-anchor="start" transform="translate(333.21,699.48) scale(0.779,1) translate(-333.21,-699.48)">SSR</text>
<text x="364.34" y="700.84" font-size="19.0" fill="#231815" font-weight="normal" text-anchor="start" letter-spacing="0.9" transform="translate(364.34,700.84) scale(0.983,1) translate(-364.34,-700.84)">驱动电压</text>
<text x="649.70" y="915.91" font-size="17.01" fill="#231815" font-weight="normal" text-anchor="start" transform="translate(649.70,915.91) scale(0.78,1) translate(-649.70,-915.91)">A</text>
<text x="648.92" y="951.40" font-size="13.91" fill="#231815" font-weight="normal" text-anchor="start" transform="translate(648.92,951.40) scale(0.929,1) translate(-648.92,-951.40)">B</text>
<text x="648.92" y="993.00" font-size="13.91" fill="#231815" font-weight="normal" text-anchor="start" transform="translate(648.92,993.00) scale(0.929,1) translate(-648.92,-993.00)">B</text>
<path d="M209,967H218.5" fill="none" stroke="#e60012" stroke-width="3"/>
<path d="M117.6,1003.3H218.5" fill="none" stroke="#231815" stroke-width="2.6"/>
<path d="M293,523.5V645.6H528" fill="none" stroke="#00a0e9" stroke-width="2.8"/>
<path d="M396.7,524.8V610.1H529.8" fill="none" stroke="#e4007f" stroke-width="2.8"/>
<text x="834.88" y="498.49" font-size="22.0" fill="#231815" font-weight="normal" text-anchor="start" letter-spacing="2.7" transform="translate(834.88,498.49) scale(0.98,1) translate(-834.88,-498.49)">三线制</text>
<text x="916.63" y="498.90" font-size="21.41" fill="#231815" font-weight="normal" text-anchor="start" letter-spacing="0.1" transform="translate(916.63,498.90) scale(0.958,1) translate(-916.63,-498.90)">PT100</text>
<path d="M831.5,539.6H825C814,539.6 814,515.5 825,515.5H917" fill="none" stroke="#231815" stroke-width="1.8" stroke-linecap="round" stroke-dasharray="0.01 6.1"/>
<path d="M886.9,538V615.4H974.2V598M887,615.4L905.4,635.2M974.2,615.4L956.3,635.2M901.2,615.4L909.7,635.2M950.2,615.4L941.7,635.2" fill="none" stroke="#231815" stroke-width="1.3"/>
<rect x="905.4" y="635.2" width="50.9" height="27.4" fill="#fff" stroke="#231815" stroke-width="1.3"/>
<path d="M910.3,635.2V662.6M941.7,635.2V662.6" fill="none" stroke="#231815" stroke-width="1.3"/>
<rect x="945" y="639.5" width="11.2" height="18.8" fill="#fff" stroke="#231815" stroke-width="1.3"/>
<circle cx="948.8" cy="648.9" r="2.4" fill="#231815"/>
<path d="M908.8,602.4L920.7,611.4V893M925.9,602.4V893M942.8,602.4L934.5,611V893" fill="none" stroke="#231815" stroke-width="1.3"/>
<path d="M915.3,662.6V893M943.4,662.6V893" fill="none" stroke="#231815" stroke-width="1.3"/>
<path d="M915.3,893Q921,890.5 927,893.5Q934,896.5 943.4,892.5" fill="none" stroke="#231815" stroke-width="1.3"/>
<path d="M914.8,902Q921,898.5 927,901.5Q935,898 943.5,900V996A14.35,14.35 0 0 1 914.8,996Z" fill="#fff" stroke="#231815" stroke-width="1.3"/>
<path d="M920.4,901V996.7H935V992L938.2,989L932.3,985L938.2,981L932.3,977L938.2,973L935,971V902M927,901.5V996.7" fill="none" stroke="#231815" stroke-width="1.3"/>
<path d="M850.5,550.4H886.8V556.4H850.5Z" fill="#fff" stroke="#231815" stroke-width="1.3"/>
<path d="M842.5,556.4H886.8Q896.5,576.7 886.8,597H842.5Z" fill="#fff" stroke="#231815" stroke-width="1.3"/>
<rect x="839.7" y="565" width="2.8" height="23" fill="#fff" stroke="#231815" stroke-width="1.3"/>
<rect x="827.9" y="556.5" width="11.8" height="40.5" rx="4" fill="#fff" stroke="#231815" stroke-width="1.3"/>
<path d="M828.5,567H839.2M828.5,586.7H839.2" fill="none" stroke="#231815" stroke-width="1.3"/>
<path d="M850,549C850.5,540.5 867,540.5 867.5,549Z" fill="#fff" stroke="#231815" stroke-width="1.3"/>
<path d="M856,543L858.8,547.5L861.5,543" fill="none" stroke="#231815" stroke-width="1.3"/>
<rect x="849.5" y="548.3" width="18.5" height="2.4" fill="#231815"/>
<path d="M838.7,539.6L849.6,550.4M840.2,538.4L851,549" fill="none" stroke="#231815" stroke-width="1.3"/>
<circle cx="838.7" cy="539.6" r="5" fill="#fff" stroke="#231815" stroke-width="1.3"/><circle cx="838.7" cy="539.6" r="2.8" fill="none" stroke="#231815" stroke-width="1.3"/><circle cx="838.7" cy="539.6" r="1.3" fill="#231815"/>
<circle cx="922" cy="515.3" r="5" fill="#fff" stroke="#231815" stroke-width="1.3"/><circle cx="922" cy="515.3" r="2.8" fill="none" stroke="#231815" stroke-width="1.3"/><circle cx="922" cy="515.3" r="1.3" fill="#231815"/>
<g transform="translate(874.4,531.5) rotate(34)"><path d="M10.5,-15.5C12,-22 17,-27 27,-28H108C119,-28 124.5,-22.5 127,-15.5Z" fill="#fff" stroke="#231815" stroke-width="1.3"/><path d="M19,-24.2H120.5" fill="none" stroke="#231815" stroke-width="1.3"/><rect x="46" y="-33.2" width="19" height="4.7" fill="#fff" stroke="#231815" stroke-width="1.3"/><path d="M47.5,-33.2C47.5,-44 63.5,-44 63.5,-33.2Z" fill="#fff" stroke="#231815" stroke-width="1.3"/><path d="M47.5,-35H63.5" fill="none" stroke="#231815" stroke-width="1.3"/><path d="M52.5,-40.5L55.5,-36.5L58.5,-40.5" fill="none" stroke="#231815" stroke-width="1.3"/><rect x="71.3" y="-35" width="19.5" height="6.5" fill="#fff" stroke="#231815" stroke-width="1.3"/><rect x="0" y="-15.5" width="136" height="15.5" fill="#fff" stroke="#231815" stroke-width="1.3"/><path d="M4.5,-15.2V0M13.5,-15.2V0M26.5,-9.5V0M13.5,-15.2H20.5Q26.5,-15.2 26.5,-9.5M41.6,-15.2V0M59,-9.5V0M41.6,-15.2H53Q59,-15.2 59,-9.5M77,-15.2V0M94,-9.5V0M77,-15.2H88Q94,-15.2 94,-9.5M110,-15.2V0M122,-9.5V0M110,-15.2H116Q122,-15.2 122,-9.5M4.5,-12.6H13.5M26.5,-12.6H41.6M59,-12.6H77M94,-12.6H110M122,-12.6H132M132,-15.2V0" fill="none" stroke="#231815" stroke-width="1.3"/></g>
<path d="M922,515.3C926,519 928,526 932.5,530.5M923.3,514.3C927.5,518 929.5,525 934,529.5" fill="none" stroke="#231815" stroke-width="1.3"/>
<circle cx="908.8" cy="602.4" r="3.6" fill="#231815"/>
<circle cx="925.2" cy="602.4" r="3.6" fill="#231815"/>
<circle cx="942.8" cy="602.4" r="3.6" fill="#231815"/>
<path d="M579.5,931.25H679.6V571.1L923,569.6L942.8,602.4" fill="none" stroke="#e4007f" stroke-width="2.6"/>
<path d="M579.5,967.1H699.6V578.2L912.8,577.8L925.2,602.4" fill="none" stroke="#00a0e9" stroke-width="2.6"/>
<path d="M579.5,1003H719.7V585.9L903.8,583.5L908.8,602.4" fill="none" stroke="#00a0e9" stroke-width="2.6"/>
</svg></body></html>
